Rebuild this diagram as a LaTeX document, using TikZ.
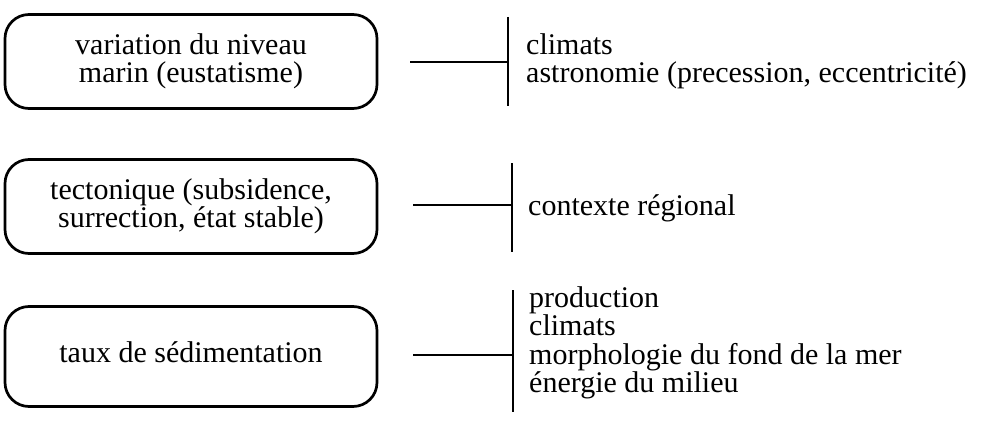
\documentclass[tikz,border=0pt]{standalone}
\usepackage{fontspec}
\setmainfont{Liberation Serif}
\newcommand\diafont{\fontsize{30}{28.5}\selectfont}
\begin{document}
\begin{tikzpicture}[x=1pt,y=-1pt,
  box/.style={draw, line width=2.7pt, rounded corners=24pt, minimum width=372pt,
    inner sep=0pt, align=center, font=\diafont},
  item/.style={anchor=base west, inner sep=0pt, font=\diafont},
  barline/.style={line width=2.7pt},
  linkline/.style={line width=2pt}]
\useasboundingbox (0,0) rectangle (984,425);

% boxes
\node[box, minimum height=94pt] (b1) at (191,61.5) {variation du niveau\\marin (eustatisme)};
\node[box, minimum height=94pt] (b2) at (191,206.5) {tectonique (subsidence,\\surrection, état stable)};
\node[box, minimum height=100pt, text height=21pt, text depth=10pt] (b3) at (191,356.5) {taux de sédimentation};

% group 1
\coordinate (h1) at (410,62);
\coordinate (t1) at (508,17);
\coordinate (u1) at (508,106);
\draw[barline] (t1) -- (u1);
\draw[linkline] (h1) -- (h1 -| t1);
\node[item] (c1a) at (526,55) {climats};
\node[item] (c1b) at (526,83) {astronomie (precession, eccentricité)};

% group 2
\coordinate (h2) at (413,205);
\coordinate (t2) at (512,163);
\coordinate (u2) at (512,252);
\draw[barline] (t2) -- (u2);
\draw[linkline] (h2) -- (h2 -| t2);
\node[item] (c2a) at (528,215) {contexte régional};

% group 3
\coordinate (h3) at (413,355);
\coordinate (t3) at (513,290);
\coordinate (u3) at (513,412);
\draw[barline] (t3) -- (u3);
\draw[linkline] (h3) -- (h3 -| t3);
\node[item] (c3a) at (529,307) {production};
\node[item] (c3b) at (529,335.5) {climats};
\node[item] (c3c) at (529,364) {morphologie du fond de la mer};
\node[item] (c3d) at (529,392.5) {énergie du milieu};
\end{tikzpicture}
\end{document}
